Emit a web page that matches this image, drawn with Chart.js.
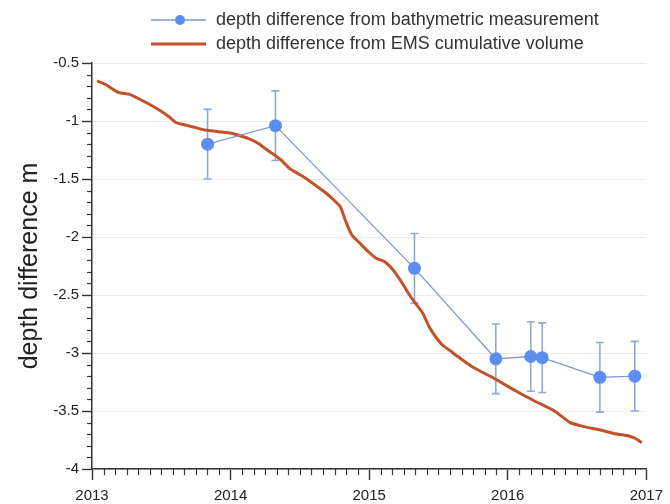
<!DOCTYPE html>
<html>
<head>
<meta charset="utf-8">
<title>Depth difference</title>
<script src="https://cdn.jsdelivr.net/npm/chart.js@4/dist/chart.umd.min.js"></script>
<style>
  html, body { margin: 0; padding: 0; background: #fff; }
  #wrap { width: 670px; height: 504px; }
</style>
</head>
<body>
<div id="wrap"><canvas id="c" width="670" height="504"></canvas></div>
<script>
// Bathymetric survey results (decimal year, depth difference in m, ± uncertainty)
const surveyYears = [2013.834, 2014.324, 2015.327, 2015.914, 2016.166, 2016.249, 2016.665, 2016.917];
const surveyDepth = [-1.20, -1.04, -2.27, -3.05, -3.03, -3.04, -3.21, -3.20];
const surveyError = [0.30, 0.30, 0.30, 0.30, 0.30, 0.30, 0.30, 0.30];

// Depth difference derived from EMS cumulative volume
const emsYears = [
  2013.036, 2013.105, 2013.140, 2013.195, 2013.271, 2013.330, 2013.401, 2013.485,
  2013.556, 2013.608, 2013.651, 2013.722, 2013.818, 2013.913, 2014.007, 2014.055,
  2014.127, 2014.198, 2014.257, 2014.317, 2014.364, 2014.424, 2014.483, 2014.542,
  2014.626, 2014.697, 2014.745, 2014.792, 2014.827, 2014.875, 2014.934, 2014.994,
  2015.053, 2015.113, 2015.173, 2015.232, 2015.291, 2015.327, 2015.387, 2015.434,
  2015.481, 2015.529, 2015.588, 2015.624, 2015.743, 2015.909, 2016.052, 2016.194,
  2016.337, 2016.456, 2016.551, 2016.670, 2016.765, 2016.860, 2016.919, 2016.967
];
const emsDepth = [
  -0.655, -0.690, -0.718, -0.756, -0.770, -0.804, -0.847, -0.905,
  -0.963, -1.015, -1.028, -1.049, -1.078, -1.092, -1.106, -1.123,
  -1.149, -1.192, -1.244, -1.293, -1.336, -1.408, -1.451, -1.494,
  -1.566, -1.629, -1.681, -1.739, -1.853, -1.983, -2.054, -2.127,
  -2.184, -2.213, -2.284, -2.385, -2.500, -2.560, -2.658, -2.776,
  -2.862, -2.931, -2.983, -3.017, -3.118, -3.224, -3.323, -3.414,
  -3.500, -3.603, -3.635, -3.664, -3.694, -3.711, -3.735, -3.773
];

// Axis ticks
const yearTicks = [2013, 2014, 2015, 2016, 2017];
const depthTicks = [-4, -3.5, -3, -2.5, -2, -1.5, -1, -0.5];

const seriesNames = [
  'depth difference from bathymetric measurement',
  'depth difference from EMS cumulative volume'
];

const FONT = '"Liberation Sans", Arial, Helvetica, sans-serif';
const AXIS_COLOR = '#333333';
const BLUE_POINT = '#5b8ef0';
const BLUE_LINE = '#8099c4';
const BLUE_ERR = '#8eaad2';
const ORANGE = '#c3512a';

// Error bars, minor ticks and the two-row legend
const extras = {
  id: 'extras',
  beforeDatasetsDraw(chart) {
    const ctx = chart.ctx;
    const xs = chart.scales.x, ys = chart.scales.y;
    ctx.save();
    ctx.strokeStyle = BLUE_ERR;
    ctx.lineWidth = 1.6;
    surveyYears.forEach((yr, i) => {
      const px = xs.getPixelForValue(yr);
      const top = ys.getPixelForValue(surveyDepth[i] + surveyError[i]);
      const bot = ys.getPixelForValue(surveyDepth[i] - surveyError[i]);
      ctx.beginPath();
      ctx.moveTo(px, top); ctx.lineTo(px, bot);
      ctx.moveTo(px - 4, top); ctx.lineTo(px + 4, top);
      ctx.moveTo(px - 4, bot); ctx.lineTo(px + 4, bot);
      ctx.stroke();
    });
    ctx.restore();
  },
  afterDraw(chart) {
    const ctx = chart.ctx;
    const xs = chart.scales.x, ys = chart.scales.y;
    const area = chart.chartArea;
    ctx.save();
    ctx.strokeStyle = AXIS_COLOR;
    ctx.lineWidth = 1.2;
    // monthly minor ticks on the time axis
    for (let m = 1; m < 48; m++) {
      if (m % 12 === 0) continue;
      const px = Math.round(xs.getPixelForValue(yearTicks[0] + m / 12)) + 0.5;
      ctx.beginPath();
      ctx.moveTo(px, area.bottom);
      ctx.lineTo(px, area.bottom + 6);
      ctx.stroke();
    }
    // 0.1 m minor ticks on the depth axis
    for (let k = 1; k < 35; k++) {
      if (k % 5 === 0) continue;
      const py = Math.round(ys.getPixelForValue(depthTicks[0] + k / 10)) + 0.5;
      ctx.beginPath();
      ctx.moveTo(area.left - 5, py);
      ctx.lineTo(area.left, py);
      ctx.stroke();
    }
    // legend
    ctx.font = '18px ' + FONT;
    ctx.textBaseline = 'middle';
    ctx.textAlign = 'left';
    const ds = chart.data.datasets;
    const rows = [
      { y: 20, ds: ds[1] },
      { y: 44, ds: ds[0] }
    ];
    rows.forEach((r, idx) => {
      ctx.beginPath();
      ctx.strokeStyle = r.ds.borderColor;
      ctx.lineWidth = r.ds.borderWidth;
      ctx.moveTo(151, r.y);
      ctx.lineTo(206, r.y);
      ctx.stroke();
      if (idx === 0) {
        ctx.beginPath();
        ctx.fillStyle = BLUE_POINT;
        ctx.arc(180, r.y, 5, 0, Math.PI * 2);
        ctx.fill();
      }
      ctx.fillStyle = '#333333';
      ctx.fillText(r.ds.label, 216, r.y);
    });
    ctx.restore();
  }
};

new Chart(document.getElementById('c'), {
  type: 'scatter',
  data: {
    datasets: [
      {
        label: seriesNames[1],
        data: emsYears.map((x, i) => ({ x, y: emsDepth[i] })),
        showLine: true,
        borderColor: ORANGE,
        borderWidth: 3,
        pointRadius: 0,
        tension: 0.2,
        order: 2
      },
      {
        label: seriesNames[0],
        data: surveyYears.map((x, i) => ({ x, y: surveyDepth[i] })),
        showLine: true,
        borderColor: BLUE_LINE,
        borderWidth: 1.3,
        pointRadius: 6.5,
        pointBackgroundColor: BLUE_POINT,
        pointBorderColor: BLUE_POINT,
        pointBorderWidth: 0,
        order: 1
      }
    ]
  },
  options: {
    responsive: false,
    animation: false,
    layout: { padding: { top: 63, right: 17, left: 0, bottom: 0 } },
    plugins: {
      legend: { display: false },
      tooltip: { enabled: false }
    },
    scales: {
      x: {
        type: 'linear',
        min: yearTicks[0],
        max: yearTicks[yearTicks.length - 1],
        afterBuildTicks(s) { s.ticks = yearTicks.map(v => ({ value: v })); },
        afterFit(s) { s.height = 35; },
        ticks: {
          color: '#222222',
          font: { family: FONT, size: 15 },
          padding: 7,
          maxRotation: 0,
          callback: v => String(v)
        },
        grid: {
          drawOnChartArea: false,
          tickColor: AXIS_COLOR,
          tickLength: 11,
          tickWidth: 1.4
        },
        border: { color: AXIS_COLOR, width: 1.5 }
      },
      y: {
        type: 'linear',
        min: depthTicks[0],
        max: depthTicks[depthTicks.length - 1],
        afterBuildTicks(s) { s.ticks = depthTicks.map(v => ({ value: v })); },
        afterFit(s) { s.width = 92; },
        ticks: {
          color: '#222222',
          font: { family: FONT, size: 15 },
          padding: 3,
          callback: v => String(Math.round(v * 10) / 10)
        },
        grid: {
          color: '#ebebeb',
          lineWidth: 1,
          tickColor: AXIS_COLOR,
          tickLength: 10,
          tickWidth: 1.4
        },
        border: { color: AXIS_COLOR, width: 1.5 },
        title: {
          display: true,
          text: 'depth difference m',
          color: '#222222',
          font: { family: FONT, size: 25 },
          padding: { top: 15, bottom: 0 }
        }
      }
    }
  },
  plugins: [extras]
});
</script>
</body>
</html>
